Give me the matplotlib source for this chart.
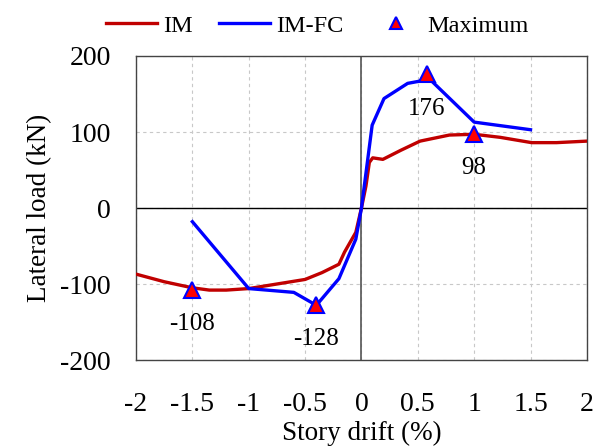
import matplotlib
matplotlib.use("Agg")
import matplotlib.pyplot as plt
from matplotlib.lines import Line2D

plt.rcParams['font.family'] = ['Liberation Serif', 'DejaVu Serif']
plt.rcParams['axes.unicode_minus'] = False

# IM curve
im_x = [-2.0, -1.75, -1.5, -1.35, -1.2, -1.0, -0.75, -0.5, -0.35, -0.2, -0.15, -0.1, -0.05, 0.0, 0.04, 0.07, 0.1, 0.19, 0.35, 0.52, 0.78, 1.0, 1.23, 1.51, 1.73, 2.0]
im_y = [-87, -97, -105, -108, -108, -106, -100, -94, -85, -74, -58, -45, -32, 0, 29, 60, 66, 64, 76, 88, 96, 97, 93, 86, 86, 88]

# IM-FC curve
fc_x = [-1.5, -1.0, -0.6, -0.4, -0.2, -0.05, 0.0, 0.095, 0.2, 0.41, 0.52, 0.58, 0.63, 1.0, 1.5]
fc_y = [-18, -106, -111, -128, -93, -41, 0, 109, 144, 164, 167, 176, 166, 113, 103]

# Maximum points
max_x = [-1.5, -0.4, 0.58, 1.0]
max_y = [-108, -128, 176, 98]
max_labels = ['-108', '-128', '176', '98']
label_y = [-153, -173, 130, 52]

xticks = [-2, -1.5, -1, -0.5, 0, 0.5, 1, 1.5, 2]
xtick_labels = ['-2', '-1.5', '-1', '-0.5', '0', '0.5', '1', '1.5', '2']
yticks = [-200, -100, 0, 100, 200]

fig = plt.figure(figsize=(5.94, 4.48), dpi=100)
ax = fig.add_axes([0.229, 0.1964, 0.759, 0.6786])

ax.set_xlim(-2, 2)
ax.set_ylim(-200, 200)
ax.set_xticks(xticks)
ax.set_xticklabels(xtick_labels)
ax.set_yticks(yticks)
ax.tick_params(axis='both', length=0, labelsize=20)
ax.tick_params(axis='x', pad=23)
ax.tick_params(axis='y', pad=18)
ax.grid(True, linestyle=(0, (3, 3)), color='#c8c8c8', linewidth=0.8)
for s in ax.spines.values():
    s.set_color('#444444')
    s.set_linewidth(1.0)

ax.axhline(0, color='black', linewidth=1.0, zorder=2)
ax.axvline(0, color='#555555', linewidth=1.2, zorder=2)

ax.plot(im_x, im_y, color='#C00000', linewidth=2.4, zorder=3)
ax.plot(fc_x, fc_y, color='#0000FF', linewidth=2.4, zorder=4)
ax.plot(max_x, max_y, linestyle='none', marker='^', markersize=12,
        markerfacecolor='#FF0000', markeredgecolor='#0000FF', markeredgewidth=1.5, zorder=5)
for x, ly, t in zip(max_x, label_y, max_labels):
    ax.text(x, ly, t, ha='center', va='center', fontsize=18)

ax.set_xlabel('Story drift (%)', fontsize=19.5, labelpad=3)
ax.set_ylabel('Lateral load (kN)', fontsize=19.5, labelpad=6)

handles = [Line2D([], [], color='#C00000', linewidth=2.4),
           Line2D([], [], color='#0000FF', linewidth=2.4),
           Line2D([], [], linestyle='none', marker='^', markersize=9,
                  markerfacecolor='#FF0000', markeredgecolor='#0000FF', markeredgewidth=1.5)]
fig.legend(handles, ['IM', 'IM-FC', 'Maximum'], loc='center', bbox_to_anchor=(0.534, 0.942),
           ncol=3, frameon=False, fontsize=17.5, handlelength=2.1, handletextpad=0.25,
           columnspacing=1.1, borderpad=0.1)

fig.savefig('out.png', dpi=100)
